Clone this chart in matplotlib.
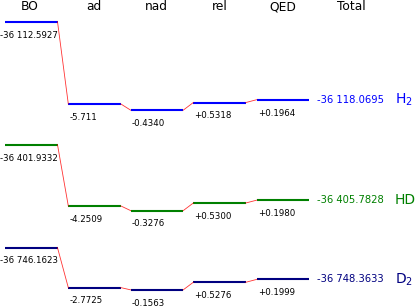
import matplotlib
matplotlib.use("Agg")
import matplotlib.pyplot as plt

# ---- data ----
columns = ["BO", "ad", "nad", "rel", "QED", "Total"]
molecules = [r"H$_2$", "HD", r"D$_2$"]
bo_values = [-36112.5927, -36401.9332, -36746.1623]
ad_values = ["-5.711", "-4.2509", "-2.7725"]
nad_values = ["-0.4340", "-0.3276", "-0.1563"]
rel_values = ["+0.5318", "+0.5300", "+0.5276"]
qed_values = ["+0.1964", "+0.1980", "+0.1999"]
total_values = [-36118.0695, -36405.7828, -36748.3633]

# ---- layout / style ----
colors = ["#0000ff", "#008000", "#000080"]
row_offsets = [0.0, -8.542, -15.694]        # vertical placement of each molecule (energy units)
bar_starts = [5, 68.3, 130.7, 193.3, 256.7]  # x positions (px-like axis units)
bar_width = 52.5
header_x = [29.5, 94, 156.5, 219.5, 282.5, 351]
total_x = 316.5
mol_x = 395
px_per_unit = 14.4

fig = plt.figure(figsize=(4.15, 3.06), dpi=100)
ax = fig.add_axes([0, 0, 1, 1])
ax.set_xlim(0, 415)
ytop = 21.7 / px_per_unit
ax.set_ylim(ytop - 306 / px_per_unit, ytop)
ax.axis("off")

def fmt_big(v):
    return f"{v:,.4f}".replace(",", " ")

for c, x in zip(columns, header_x):
    ax.text(x, ytop - 6.5 / px_per_unit, c, ha="center", va="center", fontsize=8.8, color="black")

label_off = -13.3 / px_per_unit
for i, mol in enumerate(molecules):
    col = colors[i]
    corr_strings = [ad_values[i], nad_values[i], rel_values[i], qed_values[i]]
    levels = [row_offsets[i]]
    for s in corr_strings:
        levels.append(levels[-1] + float(s))
    for j, y in enumerate(levels):
        x0 = bar_starts[j]
        ax.plot([x0, x0 + bar_width], [y, y], color=col, lw=1.5, solid_capstyle="butt")
        if j > 0:
            ax.plot([bar_starts[j - 1] + bar_width, x0], [levels[j - 1], y],
                    color="red", lw=0.6, alpha=0.8)
    # labels
    ax.text(bar_starts[0] + bar_width, levels[0] + label_off, fmt_big(bo_values[i]),
            ha="right", va="center", fontsize=6.2, color="black")
    for j, s in enumerate(corr_strings):
        ax.text(bar_starts[j + 1] + 1, levels[j + 1] + label_off, s,
                ha="left", va="center", fontsize=6.2, color="black")
    ax.text(total_x, levels[-1], fmt_big(total_values[i]), ha="left", va="center",
            fontsize=7.2, color=col)
    ax.text(mol_x, levels[-1], mol, ha="left", va="center", fontsize=10, color=col)

fig.savefig("out.png", dpi=100)
